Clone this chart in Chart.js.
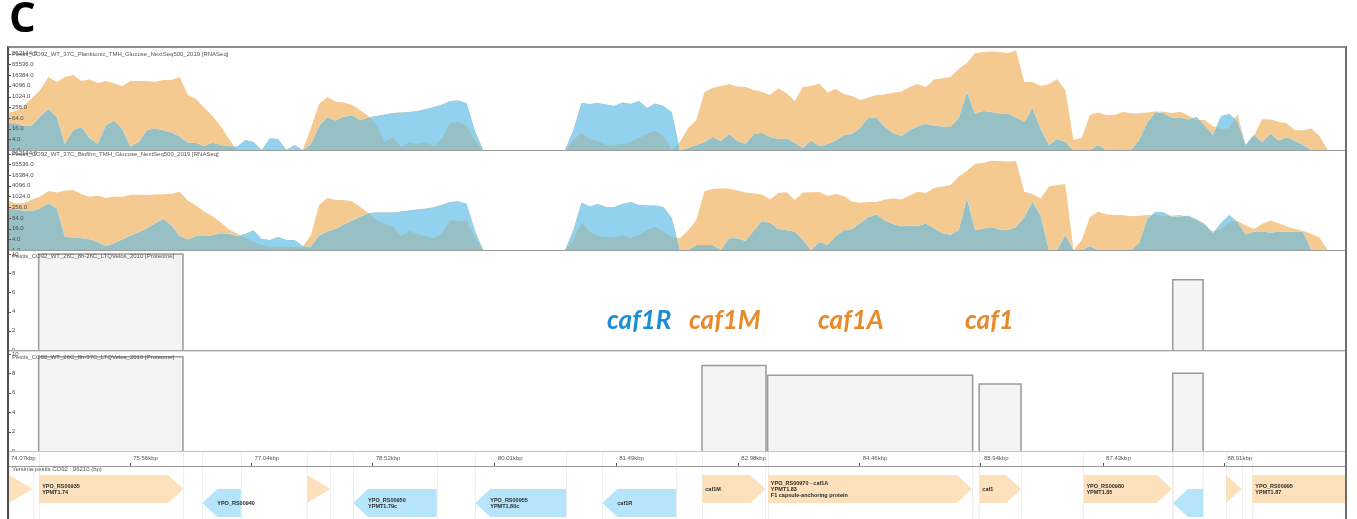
<!DOCTYPE html>
<html>
<head>
<meta charset="utf-8">
<title>caf1 locus</title>
<script src="https://cdn.jsdelivr.net/npm/chart.js@4.4.1/dist/chart.umd.min.js"></script>
<style>
  html, body { margin: 0; padding: 0; background: #fff; }
  body { position: relative; width: 1357px; height: 519px; overflow: hidden; font-family: "Liberation Sans", Arial, sans-serif; }
  .track { position: absolute; left: 7px; }
  .track canvas { display: block; }
  .title { position: absolute; left: 12px; font-size: 6px; line-height: 6px; color: #555; white-space: nowrap; z-index: 5; }
  .line { position: absolute; left: 8px; width: 1337px; height: 1px; z-index: 4; }
  .frame { position: absolute; left: 7px; top: 46px; width: 1336px; height: 475px; border-top: 2px solid #8e8e8e; border-left: 2px solid #505050; border-right: 2px solid #6e6e6e; z-index: 6; }
  .big { position: absolute; top: 306px; font: italic 700 26px Lato, sans-serif; line-height: 1; white-space: nowrap; z-index: 7; will-change: transform; }
  #panel { position: absolute; left: 9px; top: -5px; font: 700 42px "Open Sans", sans-serif; line-height: 1; will-change: transform; }
  #genome { position: absolute; left: 12px; top: 466px; font-size: 6px; line-height: 6px; color: #555; z-index: 5; }
</style>
</head>
<body>
<div id="panel">C</div>
<div class="frame"></div>

<div class="track" style="top:48px"><canvas id="trackPlank" width="1338" height="102"></canvas></div>
<div class="track" style="top:151px"><canvas id="trackBiofilm" width="1338" height="99"></canvas></div>
<div class="track" style="top:252px"><canvas id="trackProt26" width="1338" height="98"></canvas></div>
<div class="track" style="top:352px"><canvas id="trackProt37" width="1338" height="99"></canvas></div>
<div class="track" style="top:452px"><canvas id="trackGenes" width="1338" height="67"></canvas></div>

<div class="line" style="top:150px;background:#9d9d9d"></div>
<div class="line" style="top:250px;background:#9d9d9d"></div>
<div class="line" style="top:350px;background:#a5a5a5"></div>
<div class="line" style="top:351px;background:#dedede"></div>
<div class="line" style="top:451px;background:#c4c4c4"></div>

<div class="title" style="top:51px">Pestis_CO92_WT_37C_Planktonic_TMH_Glucose_NextSeq500_2019 [RNASeq]</div>
<div class="title" style="top:151px">Pestis_CO92_WT_37C_Biofilm_TMH_Glucose_NextSeq500_2019 [RNASeq]</div>
<div class="title" style="top:253px">Pestis_CO92_WT_26C_8h-26C_LTQVelos_2010 [Proteome]</div>
<div class="title" style="top:354px">Pestis_CO92_WT_26C_8h-37C_LTQVelos_2010 [Proteome]</div>
<div id="genome">Yersinia pestis CO92 : 96210 (bp)</div>

<span class="big" style="left:607px;color:#1c8ed4">caf1R</span>
<span class="big" style="left:689px;color:#e8892a">caf1M</span>
<span class="big" style="left:818px;color:#e8892a">caf1A</span>
<span class="big" style="left:965px;color:#e8892a">caf1</span>

<script>
// Read coverage, one sample every 0.1 kbp starting at 74.07 kbp
const covPlanktonicPlus = [
  120, 155, 300, 840, 2370, 12800, 6700, 12800, 16600, 7600,
  9300, 5900, 7600, 5700, 4000, 7600, 7600, 7600, 7000, 8700,
  8700, 12800, 1240, 740, 230, 82, 22, 4.2, 0, 0,
  0, 0, 0, 0, 0, 0, 0, 17, 390, 960,
  520, 470, 350, 178, 82, 25, 2.8, 5.4, 1.5, 2.8,
  2.2, 2.8, 1.6, 4.7, 33, 39, 25, 3.7, 0, 0,
  0, 0, 0, 0, 0, 0, 0, 0, 0, 3.7,
  9, 4.2, 3.2, 1.9, 1.9, 2.2, 2.8, 4.7, 8, 12,
  6.1, 0, 2.8, 17, 49, 1830, 3100, 4000, 5200, 3700,
  3500, 2400, 1830, 1240, 2900, 1600, 570, 3500, 4000, 5500,
  1720, 2700, 1420, 1090, 650, 900, 1240, 1320, 1720, 1900,
  3500, 5200, 3500, 9300, 10800, 12800, 36000, 78000, 286000, 327000,
  348000, 327000, 286000, 397000, 6700, 6700, 4000, 5200, 9600, 2400,
  3.7, 4.7, 93, 129, 93, 93, 137, 116, 116, 129,
  147, 143, 121, 143, 87, 49, 49, 22, 15, 17,
  106, 1.9, 6.1, 55, 52, 39, 32, 13, 13, 16,
  6.1, 0, 0, 0
];
const covPlanktonicMinus = [
  32, 32, 22, 25, 77, 203, 72, 2.2, 13, 20,
  4.7, 2.2, 25, 46, 15, 1.5, 2.8, 13, 16, 13,
  9.6, 5.7, 2.6, 2.5, 1.7, 2.6, 1.9, 1.7, 1.5, 3.7,
  2.8, 0, 4.6, 4.2, 0, 1.9, 0, 2.2, 22, 72,
  46, 75, 90, 49, 67, 82, 99, 121, 129, 137,
  156, 203, 264, 364, 570, 610, 426, 12, 0, 0,
  0, 0, 0, 0, 0, 0, 0, 0, 0, 13,
  440, 390, 440, 364, 300, 470, 390, 570, 230, 414,
  300, 137, 0, 1.3, 1.9, 2.8, 5.4, 3.2, 8, 3.2,
  2.2, 8, 9, 5.4, 4.2, 4.4, 2.6, 1.3, 3.4, 1.7,
  2.2, 3.4, 6.8, 8, 18, 67, 63, 20, 9, 6.1,
  13, 22, 29, 23, 21, 20, 63, 1830, 106, 156,
  137, 113, 113, 67, 38, 230, 15, 1.9, 4.2, 2.8,
  0, 0, 0, 1.9, 0, 0, 0, 0, 3.7, 35,
  137, 116, 63, 67, 52, 72, 25, 7, 82, 106,
  43, 1.9, 7.3, 2.8, 8.5, 3.4, 5.2, 3.2, 2, 0,
  0, 0, 0, 0
];
const covBiofilmPlus = [
  650, 415, 440, 695, 1020, 2070, 1720, 2220, 2370, 1420,
  1000, 1170, 840, 1000, 1000, 1290, 1290, 1240, 1320, 1380,
  1460, 1910, 610, 320, 147, 79, 36, 14, 8.5, 5,
  2.8, 1.9, 1.5, 1.5, 1.5, 1.5, 1.5, 7, 340, 840,
  650, 650, 545, 272, 121, 49, 29, 21, 6.1, 12,
  8, 6.1, 4.6, 9, 49, 40, 49, 4.7, 0, 0,
  0, 0, 0, 0, 0, 0, 0, 0, 0, 3.7,
  35, 11, 5.8, 5.4, 5.2, 6.8, 4.7, 7, 13, 20,
  10.6, 5.4, 4.6, 12.5, 49, 2070, 2700, 2900, 2900, 2220,
  1720, 1560, 1320, 695, 1610, 1770, 650, 1690, 1770, 1830,
  1090, 1420, 1090, 520, 450, 500, 500, 685, 780, 695,
  1170, 1880, 1610, 3050, 3700, 4600, 13700, 28000, 70000, 78500,
  106000, 102000, 95000, 102000, 1910, 1420, 790, 3740, 4540, 5200,
  0, 3.7, 72, 143, 102, 93, 93, 79, 85, 93,
  93, 82, 86, 93, 72, 47, 24, 11, 15, 36,
  43, 24, 15, 29, 45, 32, 21, 15, 12, 8,
  5, 0, 0, 0
];
const covBiofilmMinus = [
  222, 192, 165, 156, 222, 415, 222, 5.6, 5, 4.6,
  4, 2.7, 1.6, 2.5, 3.9, 6.6, 10, 16.6, 32, 55,
  25, 6, 3.9, 6.1, 6.1, 6.8, 8.7, 8.3, 6.1, 8,
  13, 4.2, 3.6, 5.4, 3.7, 3.6, 1.7, 1.5, 6.5, 11,
  15, 27, 44, 75, 121, 129, 129, 129, 147, 167,
  190, 211, 256, 354, 500, 550, 390, 12, 0, 0,
  0, 0, 0, 0, 0, 0, 0, 0, 0, 13,
  470, 280, 390, 264, 264, 390, 500, 340, 320, 320,
  264, 63, 0, 0, 1.9, 1.9, 1.9, 0, 4.6, 4.6,
  3.2, 12, 43, 33, 15, 13, 11, 3.7, 0, 2.8,
  1.9, 6.1, 13, 15, 33, 72, 99, 46, 29, 22,
  24, 22, 31, 16, 8.7, 7.2, 13, 810, 13, 16,
  19, 14, 13, 19, 72, 540, 82, 0, 0, 7,
  0, 0, 1.7, 0, 0, 0, 0, 0, 2.5, 55,
  143, 129, 75, 77, 84, 54, 29, 9, 33, 93,
  38, 7.5, 10.7, 11, 9.4, 10.7, 10.7, 10.7, 10.7, 0,
  0, 0, 0, 0
];
const covTicks = [1, 4, 16, 64, 256, 1024, 4096, 16384, 65536, 262144];

// Proteome peptide blocks (kbp) and their values
const prot26Start = [74.45, 88.28];
const prot26End = [76.21, 88.65];
const prot26Value = [10.0, 7.3];
const prot37Start = [74.45, 82.54, 83.34, 85.92, 88.28];
const prot37End = [76.21, 83.32, 85.84, 86.43, 88.65];
const prot37Value = [9.7, 8.8, 7.8, 6.9, 8.0];
const protTicks = [0, 2, 4, 6, 8, 10];

// Genes (kbp)
const geneStart = [74.08, 74.45, 76.44, 77.72, 78.28, 79.77, 81.32, 82.54, 83.34, 85.92, 87.19, 88.28, 88.93, 89.25];
const geneEnd = [74.37, 76.21, 76.91, 78.00, 79.30, 80.88, 82.22, 83.31, 85.83, 86.43, 88.27, 88.65, 89.12, 90.60];
const geneStrand = ['+', '+', '-', '+', '-', '-', '-', '+', '+', '+', '+', '-', '+', '+'];
const geneLabel = [
  [], ['YPO_RS00935', 'YPMT1.74'], ['YPO_RS00940'], [], ['YPO_RS00950', 'YPMT1.79c'],
  ['YPO_RS00955', 'YPMT1.80c'], ['caf1R'], ['caf1M'],
  ['YPO_RS00970 - caf1A', 'YPMT1.83', 'F1 capsule-anchoring protein'], ['caf1'],
  ['YPO_RS00980', 'YPMT1.85'], [], [], ['YPO_RS00995', 'YPMT1.87']
];
const axisKbp = [74.07, 75.56, 77.04, 78.52, 80.01, 81.49, 82.98, 84.46, 85.94, 87.43, 88.91];

const xMin = 74.064, xMax = 90.381;
const ORANGE = '#f5ca90', BLUE = '#93d2ee', TEAL = '#97c0c4';
const GENE_FWD = '#fde1bc', GENE_REV = '#b6e5fb';
const FONT = 'Liberation Sans';

const covKbp = covPlanktonicPlus.map((_, i) => +(74.07 + i * 0.1).toFixed(2));

function points(values) {
  // empty bins sit on the floor of the log axis
  return values.map((v, i) => ({ x: covKbp[i], y: Math.max(v, 1) }));
}

// little "-" marks at each y tick, inside the track
const tickMarks = {
  id: 'tickMarks',
  afterDraw(chart) {
    const s = chart.scales.y;
    const ctx = chart.ctx;
    ctx.save();
    ctx.strokeStyle = '#555';
    ctx.lineWidth = 1;
    s.ticks.forEach(t => {
      const y = Math.round(s.getPixelForValue(t.value)) + 0.5;
      ctx.beginPath();
      ctx.moveTo(chart.chartArea.left, y);
      ctx.lineTo(chart.chartArea.left + 4, y);
      ctx.stroke();
    });
    ctx.restore();
  }
};

function yAxis(type, min, max, tickValues, fmt) {
  return {
    type: type, min: min, max: max, position: 'left',
    afterFit(scale) { scale.width = 0; scale.paddingTop = 0; scale.paddingBottom = 0; },
    afterBuildTicks(scale) { scale.ticks = tickValues.map(v => ({ value: v })); },
    grid: { display: false },
    border: { display: false },
    ticks: { z: 1, mirror: true, padding: 5, autoSkip: false, color: '#4a4a4a', font: { family: FONT, size: 6 }, callback: fmt }
  };
}

const common = {
  responsive: false,
  animation: false,
  events: [],
  layout: { padding: 0, autoPadding: false },
  plugins: { legend: { display: false }, tooltip: { enabled: false } }
};

function coverageChart(id, plus, minus, yMax) {
  return new Chart(document.getElementById(id), {
    type: 'line',
    data: {
      datasets: [
        // overlap colour under the minus strand, drawn first
        { label: 'minus strand', order: 2, data: points(minus), fill: 'start', backgroundColor: TEAL,
          borderColor: 'transparent', borderWidth: 0, pointRadius: 0 },
        // between the strands: orange where plus is higher, blue where minus is higher
        { label: 'plus strand', order: 1, data: points(plus), fill: { target: 0, above: ORANGE, below: BLUE },
          borderColor: 'transparent', borderWidth: 0, pointRadius: 0 }
      ]
    },
    options: Object.assign({}, common, {
      scales: {
        x: { type: 'linear', min: xMin, max: xMax, display: false },
        y: yAxis('logarithmic', 1, yMax, covTicks, v => Number(v).toFixed(1))
      }
    }),
    plugins: [tickMarks]
  });
}

function proteomeChart(id, starts, ends, values) {
  const datasets = starts.map((s, i) => ({
    label: 'block ' + i,
    data: [{ x: s, y: 0 }, { x: s, y: values[i] }, { x: ends[i], y: values[i] }, { x: ends[i], y: 0 }],
    fill: 'origin', backgroundColor: '#f4f4f4', borderColor: '#9a9a9a', borderWidth: 1.5, pointRadius: 0
  }));
  return new Chart(document.getElementById(id), {
    type: 'line',
    data: { datasets: datasets },
    options: Object.assign({}, common, {
      scales: {
        x: { type: 'linear', min: xMin, max: xMax, display: false },
        y: yAxis('linear', 0, 10.2, protTicks, v => String(v))
      }
    }),
    plugins: [tickMarks]
  });
}

coverageChart('trackPlank', covPlanktonicPlus, covPlanktonicMinus, 550000);
coverageChart('trackBiofilm', covBiofilmPlus, covBiofilmMinus, 370000);
proteomeChart('trackProt26', prot26Start, prot26End, prot26Value);
proteomeChart('trackProt37', prot37Start, prot37End, prot37Value);

// gene arrows + boundary lines
const geneTrack = {
  id: 'geneTrack',
  beforeDraw(chart) {
    const xs = chart.scales.x, ctx = chart.ctx;
    ctx.save();
    ctx.strokeStyle = '#efefef';
    ctx.lineWidth = 1;
    geneStart.forEach((s, i) => {
      [s, geneEnd[i]].forEach(v => {
        const px = Math.round(xs.getPixelForValue(v)) + 0.5;
        ctx.beginPath();
        ctx.moveTo(px, 0);
        ctx.lineTo(px, chart.height);
        ctx.stroke();
      });
    });
    ctx.restore();
  },
  afterDraw(chart) {
    const xs = chart.scales.x, area = chart.chartArea, ctx = chart.ctx;
    ctx.save();
    ctx.beginPath();
    ctx.rect(area.left, area.top, area.right - area.left, area.bottom - area.top);
    ctx.clip();
    geneStart.forEach((s, i) => {
      const a = xs.getPixelForValue(s), b = xs.getPixelForValue(geneEnd[i]);
      const w = b - a;
      const head = w < 30 ? w : 15;
      const fwd = geneStrand[i] === '+';
      const top = area.top + (fwd ? 9 : 23), bot = top + 28, mid = top + 14;
      ctx.fillStyle = fwd ? GENE_FWD : GENE_REV;
      ctx.beginPath();
      if (fwd) {
        ctx.moveTo(a, top); ctx.lineTo(b - head, top); ctx.lineTo(b, mid); ctx.lineTo(b - head, bot); ctx.lineTo(a, bot);
      } else {
        ctx.moveTo(b, top); ctx.lineTo(a + head, top); ctx.lineTo(a, mid); ctx.lineTo(a + head, bot); ctx.lineTo(b, bot);
      }
      ctx.closePath();
      ctx.fill();

      const lines = geneLabel[i];
      ctx.fillStyle = '#2a2a2a';
      ctx.font = 'bold 5.5px "' + FONT + '"';
      ctx.textBaseline = 'middle';
      ctx.textAlign = 'left';
      const tx = fwd ? a + 3 : a + head;
      lines.forEach((t, j) => {
        ctx.fillText(t, tx, mid + (j - (lines.length - 1) / 2) * 6);
      });
    });
    ctx.restore();
  }
};

new Chart(document.getElementById('trackGenes'), {
  type: 'line',
  data: { datasets: [] },
  options: Object.assign({}, common, {
    scales: {
      x: {
        type: 'linear', position: 'top', min: xMin, max: xMax,
        afterFit(scale) { scale.height = 14; },
        afterBuildTicks(scale) { scale.ticks = axisKbp.map(v => ({ value: v })); },
        grid: { drawOnChartArea: false, tickLength: 3, color: '#555', lineWidth: 1 },
        border: { color: '#9a9a9a' },
        ticks: { align: 'start', labelOffset: 3, padding: 1, maxRotation: 0, minRotation: 0, autoSkip: false,
          color: '#555', font: { family: FONT, size: 6 }, callback: v => Number(v).toFixed(2) + 'kbp' }
      },
      y: { min: 0, max: 1, display: false }
    }
  }),
  plugins: [geneTrack]
});
</script>
</body>
</html>
